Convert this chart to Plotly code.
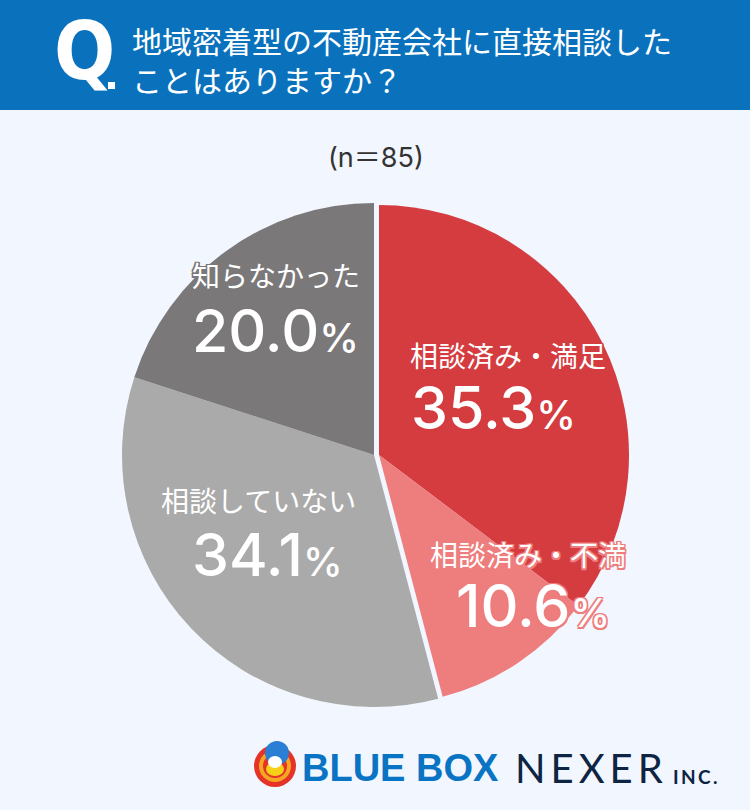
import plotly.graph_objects as go

# ---- data ----
categories = ["相談済み・満足", "相談済み・不満", "相談していない", "知らなかった"]
values = [35.3, 10.6, 34.1, 20.0]
colors = ["#d43c40", "#ee7d7d", "#aaaaaa", "#7a7879"]
title_line1 = "地域密着型の不動産会社に直接相談した"
title_line2 = "ことはありますか？"
sample_note = "(n＝85)"

W, H = 750, 810
BG = "#f2f6fe"
BLUE = "#0a72bd"

def px(x):
    return x / W

def py(y):
    return 1 - y / H

def domain(cx, cy, r):
    return dict(x=[px(cx - r), px(cx + r)], y=[py(cy + r), py(cy - r)])

fig = go.Figure()

n_right = 2  # the two "相談済み" slices form the right-hand group
right_total = sum(values[:n_right])
left_total = sum(values[n_right:])
TRANSP = "rgba(0,0,0,0)"

# right group (red / pink)
fig.add_trace(go.Pie(
    values=values[:n_right] + [left_total],
    labels=categories[:n_right] + ["_rest"],
    marker=dict(colors=colors[:n_right] + [TRANSP], line=dict(width=0)),
    sort=False, direction="clockwise", rotation=0,
    textinfo="none", hoverinfo="skip", showlegend=False,
    domain=domain(379, 455, 250),
))
# left group (grays)
fig.add_trace(go.Pie(
    values=[right_total] + values[n_right:],
    labels=["_rest2"] + categories[n_right:],
    marker=dict(colors=[TRANSP] + colors[n_right:], line=dict(width=0)),
    sort=False, direction="clockwise", rotation=0,
    textinfo="none", hoverinfo="skip", showlegend=False,
    domain=domain(374, 455, 252),
))

shapes = [
    dict(type="rect", xref="paper", yref="paper", x0=0, x1=1, y0=py(110), y1=1,
         fillcolor=BLUE, line=dict(width=0), layer="below"),
    # small square dot after "Q"
    dict(type="rect", xref="paper", yref="paper", x0=px(108), x1=px(115), y0=py(89), y1=py(82),
         fillcolor="#ffffff", line=dict(width=0)),
    # mascot emblem
    dict(type="circle", xref="paper", yref="paper", x0=px(254), x1=px(296), y0=py(787), y1=py(745),
         fillcolor="#e5332a", line=dict(width=0)),
    dict(type="circle", xref="paper", yref="paper", x0=px(259), x1=px(291), y0=py(782), y1=py(750),
         fillcolor="#f5a623", line=dict(width=0)),
    dict(type="circle", xref="paper", yref="paper", x0=px(263), x1=px(287), y0=py(778), y1=py(754),
         fillcolor="#e5332a", line=dict(width=0)),
    dict(type="circle", xref="paper", yref="paper", x0=px(265), x1=px(289), y0=py(765), y1=py(741),
         fillcolor="#2a7fd4", line=dict(width=0)),
    dict(type="circle", xref="paper", yref="paper", x0=px(266), x1=px(284), y0=py(776), y1=py(762),
         fillcolor="#f7d117", line=dict(width=0)),
    dict(type="circle", xref="paper", yref="paper", x0=px(268), x1=px(282), y0=py(768), y1=py(756),
         fillcolor="#ffffff", line=dict(width=0)),
]

JP = "Noto Sans CJK JP"
NUM = "Inter, Noto Sans, sans-serif"

def stroke(c, w=1.5):
    return (f"{w}px 0 0 {c}, -{w}px 0 0 {c}, 0 {w}px 0 {c}, 0 -{w}px 0 {c}, "
            f"{w}px {w}px 0 {c}, -{w}px -{w}px 0 {c}, {w}px -{w}px 0 {c}, -{w}px {w}px 0 {c}")

annotations = []

def ann(text, x, y, size, color="#ffffff", family=JP, weight=400, xanchor="center",
        shadow="none", align="center"):
    annotations.append(dict(
        text=text, x=px(x), y=py(y), xref="paper", yref="paper",
        xanchor=xanchor, yanchor="middle", showarrow=False, align=align,
        font=dict(size=size, color=color, family=family, weight=weight, shadow=shadow),
    ))

# header
ann("Q", 52, 51, 80,
    family="Liberation Sans Narrow, DejaVu Sans Condensed, sans-serif",
    weight=700, xanchor="left")
ann(title_line1 + "<br>" + title_line2, 130, 59, 30, xanchor="left", align="left")

# sample size
ann(sample_note, 376, 157, 27, color="#333333", family="Inter, Noto Sans CJK JP, sans-serif")

# slice labels: (label center x, label y, number center x, number y)
label_pos = [
    (508, 355, 494, 408),
    (528, 554, 533, 605),
    (258, 500, 267, 554),
    (276, 275, 275, 330),
]
shadow_cols = ["#d43c40", "#ee7d7d", "#aaaaaa", "#7a7879"]
for cat, v, (lx, ly, nx, ny), sc in zip(categories, values, label_pos, shadow_cols):
    sh = stroke(sc, 1.5)
    ann(cat, lx, ly, 28, shadow=sh)
    ann(f"{v:.1f}<span style='font-size:40px'>%</span>", nx, ny, 59,
        family=NUM, weight=500, shadow=sh)

# footer logos
ann("BLUE BOX", 300, 768, 38, color="#0a74c4",
    family="Liberation Sans, Arial, sans-serif", weight=700, xanchor="left")
ann("N\u2009E\u2009X\u2009E\u2009R", 513, 768, 40, color="#0d2442",
    family="Lato, Inter, sans-serif", weight=400, xanchor="left")
ann("I\u2009N\u2009C\u2009.", 671, 776, 19, color="#0d2442",
    family="Lato, Inter, sans-serif", weight=700, xanchor="left")

fig.update_layout(
    width=W, height=H,
    margin=dict(l=0, r=0, t=0, b=0),
    paper_bgcolor=BG, plot_bgcolor=BG,
    shapes=shapes, annotations=annotations,
    showlegend=False,
)

fig.write_html(
    "out.html",
    config={"displayModeBar": False},
    post_script="document.body.style.margin='0';document.body.style.padding='0';"
                "document.body.style.background='" + BG + "';",
)
